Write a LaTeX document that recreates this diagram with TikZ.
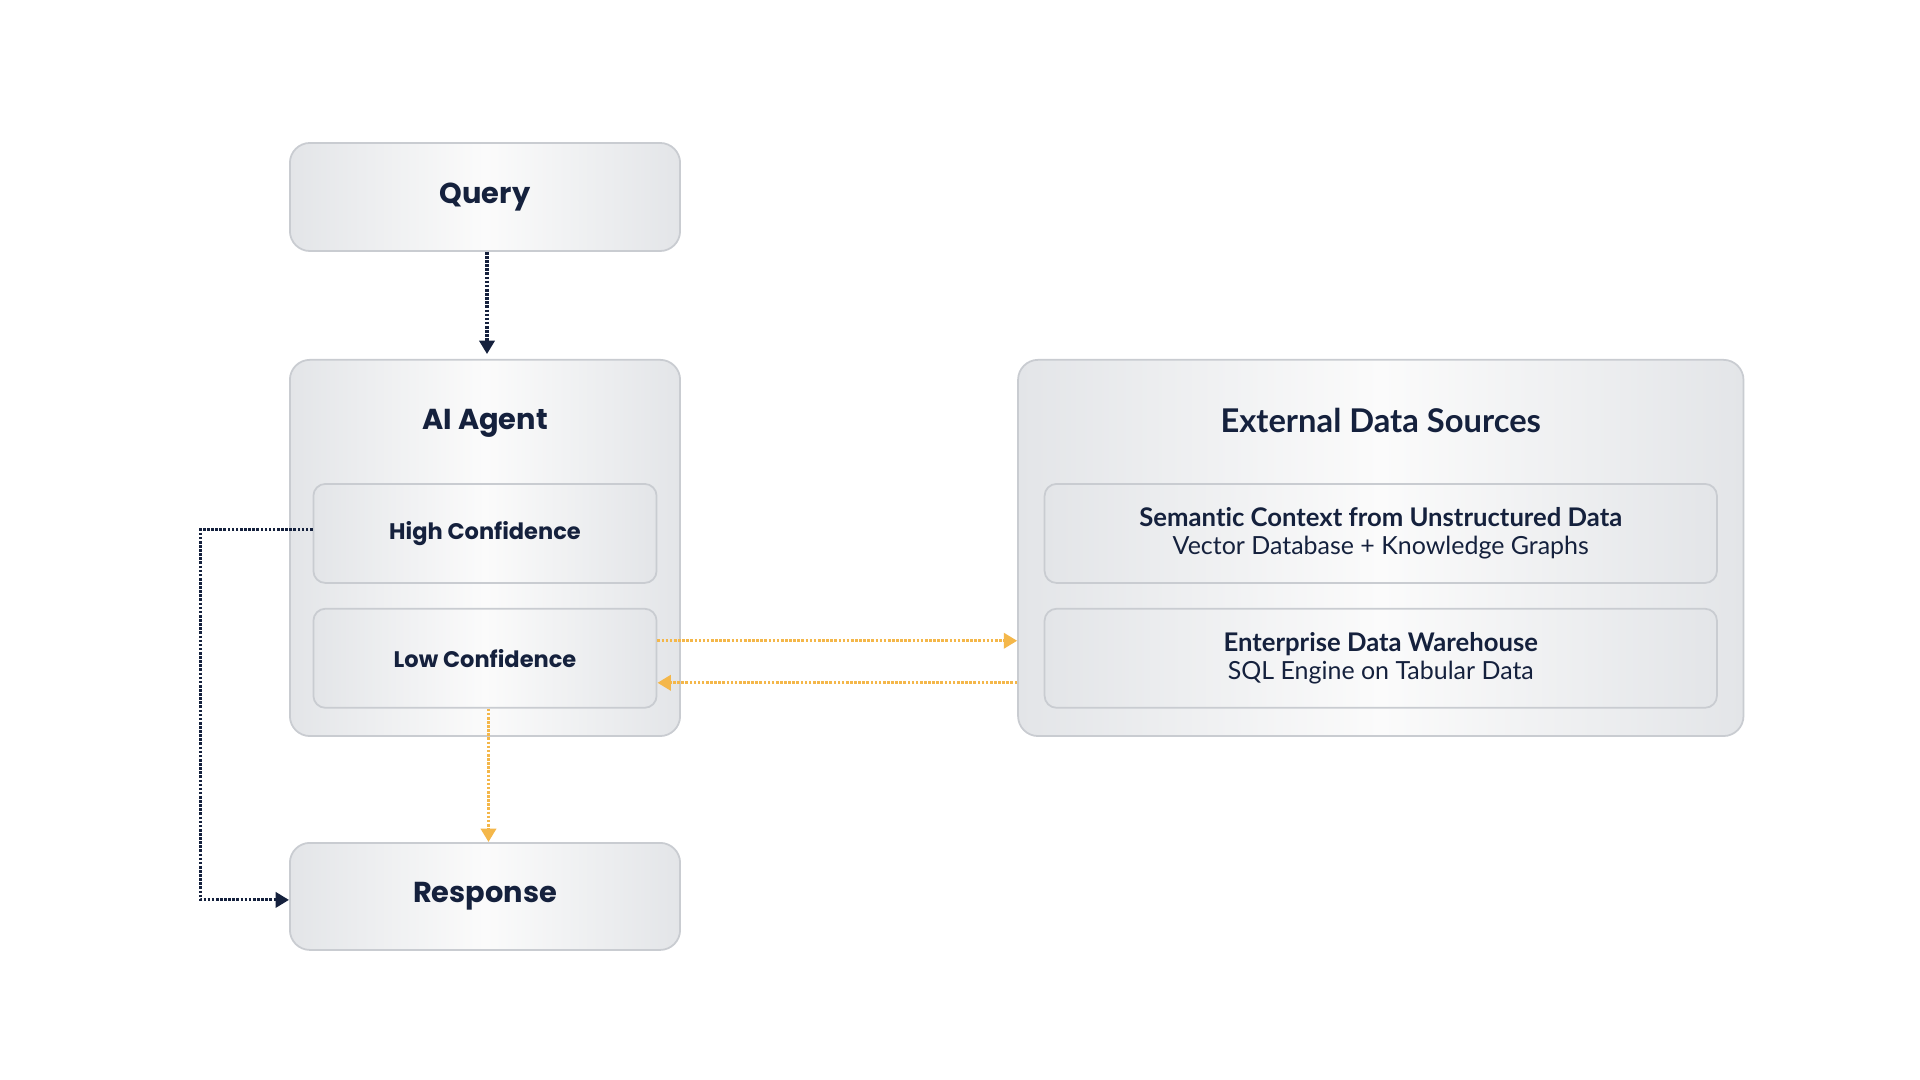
\documentclass[tikz,border=0pt]{standalone}
\usepackage{fontspec}
\setmainfont{Poppins}
\newfontfamily\srcfont[Ligatures=NoCommon]{Lato}
\usetikzlibrary{arrows.meta,positioning,calc}
\definecolor{ink}{HTML}{15213D}
\definecolor{amber}{HTML}{F4B74A}
\definecolor{edgegrey}{HTML}{C9CCD1}
\definecolor{panelside}{HTML}{E3E5E8}
\definecolor{panelmid}{HTML}{FBFBFB}

\tikzset{
  panel/.style={draw=edgegrey, line width=0.5pt, rounded corners=0.2cm,
    left color=panelside, right color=panelside, middle color=panelmid,
    minimum width=3.9cm, inner sep=0pt},
  subpanel/.style={panel, rounded corners=0.12cm, minimum width=3.43cm, minimum height=0.99cm},
  headtext/.style={text=ink, font=\fontsize{8.2}{10}\selectfont\bfseries},
  subtext/.style={text=ink, font=\fontsize{6.4}{8}\selectfont\bfseries},
  srctext/.style={text=ink, align=center, font=\srcfont\fontsize{7.1}{8.1}\selectfont},
  navyflow/.style={ink, line width=0.9pt, dash pattern=on 0.75pt off 0.42pt,
    -{Triangle[width=4.3pt,length=3.8pt]}},
  amberflow/.style={amber, line width=0.9pt, dash pattern=on 0.75pt off 0.42pt,
    -{Triangle[width=4.3pt,length=3.8pt]}}
}

\begin{document}
\begin{tikzpicture}[x=0.01cm, y=-0.01cm]
  \useasboundingbox[fill=white] (0,0) rectangle (1920,1080);

  % main column
  \node[panel, minimum height=1.08cm] (query) at (485,197) {};
  \node[headtext] at (query) {Query};
  \node[panel, minimum height=3.76cm, below=1.07cm of query] (agent) {};
  \node[headtext] (agenttitle) at ([yshift=-0.64cm]agent.north) {AI Agent};
  \node[subpanel, below=1.24cm of agent.north] (high) {};
  \node[subtext] at (high) {High Confidence};
  \node[subpanel, below=0.24cm of high] (low) {};
  \node[subtext] at (low) {Low Confidence};
  \node[panel, minimum height=1.07cm, below=1.05cm of agent] (resp) {};
  \node[headtext] at (resp) {Response};

  % data sources
  \node[panel, minimum width=7.25cm, minimum height=3.76cm, right=3.36cm of agent] (ext) {};
  \node[srctext, font=\srcfont\fontsize{9.3}{11}\selectfont\bfseries] (exttitle)
    at ([yshift=-0.61cm]ext.north) {External Data Sources};
  \node[subpanel, minimum width=6.72cm, below=1.24cm of ext.north] (semantic) {};
  \node[srctext] at (semantic) {{\fontsize{7.3}{8.1}\selectfont\bfseries Semantic Context from Unstructured Data}\\Vector Database + Knowledge Graphs};
  \node[subpanel, minimum width=6.72cm, below=0.24cm of semantic] (warehouse) {};
  \node[srctext] at (warehouse) {{\fontsize{7.3}{8.1}\selectfont\bfseries Enterprise Data Warehouse}\\SQL Engine on Tabular Data};

  % flows
  \draw[navyflow, shorten >=1.4pt] ([xshift=0.02cm]query.south) -- ([xshift=0.02cm]query.south |- agent.north);
  \draw[navyflow] ([yshift=0.04cm]high.west) -- ++(-112,0) |- ([yshift=-0.035cm]resp.west);
  \draw[amberflow] ([yshift=0.175cm]low.east) -- ([yshift=0.175cm]low.east -| ext.west);
  \draw[amberflow] ([yshift=-0.245cm]low.east -| ext.west) -- ([yshift=-0.245cm]low.east);
  \draw[amberflow] ([xshift=0.035cm]low.south) -- ([xshift=0.035cm]low.south |- resp.north);
\end{tikzpicture}
\end{document}
